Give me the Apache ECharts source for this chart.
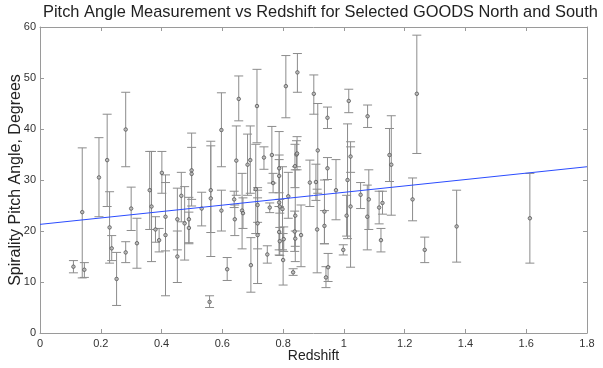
<!DOCTYPE html>
<html>
<head>
<meta charset="utf-8">
<script src="https://cdn.jsdelivr.net/npm/echarts@6/dist/echarts.min.js"></script>
<style>html,body{margin:0;padding:0;background:#fff;}#chart{width:603px;height:368px;}</style>
</head>
<body>
<div id="chart"></div>
<script>
// Redshift of each galaxy
const redshift = [0.110,0.139,0.146,0.194,0.221,0.229,0.236,0.252,0.282,0.282,0.300,0.319,0.361,0.367,0.380,0.392,0.401,0.413,0.413,0.452,0.452,0.465,0.476,0.490,0.490,0.499,0.499,0.532,0.558,0.562,0.562,0.597,0.597,0.616,0.639,0.646,0.641,0.654,0.665,0.668,0.683,0.692,0.694,0.710,0.714,0.716,0.716,0.716,0.737,0.748,0.756,0.763,0.767,0.787,0.787,0.787,0.789,0.787,0.789,0.798,0.800,0.802,0.809,0.817,0.839,0.844,0.846,0.847,0.840,0.838,0.840,0.833,0.859,0.888,0.901,0.914,0.908,0.912,0.936,0.936,0.946,0.946,0.948,0.941,0.974,0.998,1.012,1.009,1.016,1.022,1.022,1.055,1.078,1.082,1.077,1.116,1.127,1.122,1.156,1.150,1.240,1.226,1.266,1.371,1.612];
// Pitch angle (degrees)
const pitchAngle = [13.0,23.7,12.4,30.5,33.9,20.7,16.6,10.6,39.9,15.8,24.4,17.6,28.0,24.8,20.3,18.2,31.4,22.8,19.2,22.3,15.0,26.9,21.5,22.3,20.6,31.9,31.2,24.4,6.1,26.4,28.0,39.8,24.0,12.5,26.2,33.8,22.3,45.9,24.0,23.5,33.0,33.9,13.3,28.2,44.5,25.1,21.5,19.2,34.4,15.4,24.6,34.9,29.4,32.3,25.6,30.8,24.8,19.8,18.0,24.3,14.3,18.4,48.4,26.8,32.7,35.0,35.2,51.1,23.0,19.9,18.5,11.9,19.2,29.5,46.9,35.8,29.6,20.3,23.8,21.0,42.2,32.3,12.9,10.9,28.0,16.3,30.0,23.0,45.5,24.8,34.6,27.1,42.5,26.2,22.8,24.6,25.5,18.2,33.0,34.9,46.9,26.2,16.3,20.9,22.5];
// Lower end of error bar
const errLow = [11.8,10.8,10.9,22.8,24.8,13.7,14.2,5.4,32.6,13.8,20.1,12.7,20.3,14.0,17.8,15.9,27.4,16.1,7.3,16.3,9.9,21.8,14.3,17.7,17.5,24.9,26.2,21.0,5.0,15.0,19.7,32.6,20.0,10.3,24.6,27.0,19.1,41.6,16.5,20.5,27.0,27.4,8.0,19.5,37.3,21.7,16.5,9.7,32.1,13.7,23.6,29.4,27.5,24.8,16.3,27.5,23.5,15.3,15.2,16.3,9.4,16.0,42.2,22.5,28.5,32.6,32.0,47.2,14.0,16.0,17.0,11.3,13.0,24.8,42.9,27.4,26.0,11.8,17.5,17.5,40.1,30.1,10.1,8.9,22.2,15.3,18.5,19.0,43.2,12.9,31.5,24.4,40.3,20.3,16.3,21.4,23.3,15.9,23.1,29.7,35.2,22.0,13.8,13.9,13.7];
// Upper end of error bar
const errHigh = [14.2,36.3,13.8,38.3,42.9,27.7,19.1,15.8,47.2,17.9,28.6,22.5,35.6,35.6,22.8,20.5,35.6,29.5,31.0,28.4,20.0,31.5,28.7,26.6,23.7,39.2,36.4,27.6,7.3,37.6,36.7,47.1,28.0,14.8,27.8,40.6,25.1,50.4,31.3,26.5,39.0,40.6,18.7,37.0,51.7,28.5,26.5,28.0,36.5,17.1,25.5,40.5,31.3,39.5,34.9,34.0,26.2,24.8,20.7,32.6,19.5,20.8,54.4,31.5,37.0,37.7,38.5,54.8,32.0,23.9,20.0,12.6,25.1,33.9,50.6,45.0,33.1,28.2,30.0,24.0,44.3,34.4,15.6,13.0,34.0,17.3,41.0,27.0,47.8,36.5,37.5,29.5,44.7,32.0,29.0,27.8,27.8,20.5,42.6,40.1,58.4,30.4,18.8,28.0,31.3];
// Linear fit line endpoints
const fitX = [0, 1.8];
const fitY = [21.3, 32.6];

const font = 'Liberation Sans';
const points = redshift.map((x, i) => [x, pitchAngle[i]]);
const bars = redshift.map((x, i) => [x, errLow[i], errHigh[i]]);
const fit = fitX.map((x, i) => [x, fitY[i]]);

const axisLineStyle = {color: '#9a9a9a', width: 1};
const chart = echarts.init(document.getElementById('chart'));
chart.setOption({
  animation: false,
  backgroundColor: '#fff',
  title: {
    text: 'Pitch Angle Measurement vs Redshift for Selected GOODS North and South',
    left: 43, top: 4, padding: 0,
    textStyle: {fontFamily: font, fontSize: 16.4, fontWeight: 'normal', color: '#222'}
  },
  grid: {left: 40, right: 16, top: 27, bottom: 35, outerBoundsMode: 'none', containLabel: false},
  xAxis: [{
    type: 'value', min: 0, max: 1.8, interval: 0.2,
    axisLine: {show: true, onZero: false, lineStyle: axisLineStyle},
    axisTick: {show: true, inside: true, length: 4, lineStyle: axisLineStyle},
    splitLine: {show: false},
    axisLabel: {fontFamily: font, fontSize: 11, color: '#333', margin: 5,
      formatter: v => String(Number(v.toFixed(1)))},
    name: 'Redshift', nameLocation: 'middle', nameGap: 16, nameMoveOverlap: false,
    nameTextStyle: {fontFamily: font, fontSize: 14, color: '#222'}
  }, {
    type: 'value', min: 0, max: 1.8, interval: 0.2, position: 'top',
    axisLine: {show: true, onZero: false, lineStyle: axisLineStyle},
    axisTick: {show: true, inside: true, length: 4, lineStyle: axisLineStyle},
    splitLine: {show: false}, axisLabel: {show: false}
  }],
  yAxis: [{
    type: 'value', min: 0, max: 60, interval: 10,
    axisLine: {show: true, onZero: false, lineStyle: axisLineStyle},
    axisTick: {show: true, inside: true, length: 4, lineStyle: axisLineStyle},
    splitLine: {show: false},
    axisLabel: {fontFamily: font, fontSize: 11, color: '#333', margin: 4},
    name: 'Spirality Pitch Angle, Degrees', nameLocation: 'middle', nameGap: 16, nameMoveOverlap: false,
    nameTextStyle: {fontFamily: font, fontSize: 16, color: '#222'}
  }, {
    type: 'value', min: 0, max: 60, interval: 10, position: 'right',
    axisLine: {show: true, onZero: false, lineStyle: axisLineStyle},
    axisTick: {show: true, inside: true, length: 4, lineStyle: axisLineStyle},
    splitLine: {show: false}, axisLabel: {show: false}
  }],
  series: [{
    type: 'custom',
    xAxisIndex: 0, yAxisIndex: 0,
    data: bars,
    z: 2,
    renderItem: function (params, api) {
      const x = api.value(0);
      const lo = api.coord([x, api.value(1)]);
      const hi = api.coord([x, api.value(2)]);
      const hw = 4.5;
      const style = {stroke: '#8c8c8c', lineWidth: 1};
      return {
        type: 'group',
        children: [
          {type: 'line', shape: {x1: lo[0], y1: lo[1], x2: hi[0], y2: hi[1]}, style: style},
          {type: 'line', shape: {x1: lo[0] - hw, y1: lo[1], x2: lo[0] + hw, y2: lo[1]}, style: style},
          {type: 'line', shape: {x1: hi[0] - hw, y1: hi[1], x2: hi[0] + hw, y2: hi[1]}, style: style}
        ]
      };
    }
  }, {
    type: 'scatter',
    xAxisIndex: 0, yAxisIndex: 0,
    data: points,
    symbol: 'circle', symbolSize: 3.5,
    itemStyle: {color: '#bbbbbb', borderColor: '#555', borderWidth: 1},
    z: 3
  }, {
    type: 'line',
    xAxisIndex: 0, yAxisIndex: 0,
    data: fit,
    showSymbol: false,
    lineStyle: {color: '#2b4cff', width: 1},
    z: 4
  }]
});
</script>
</body>
</html>
